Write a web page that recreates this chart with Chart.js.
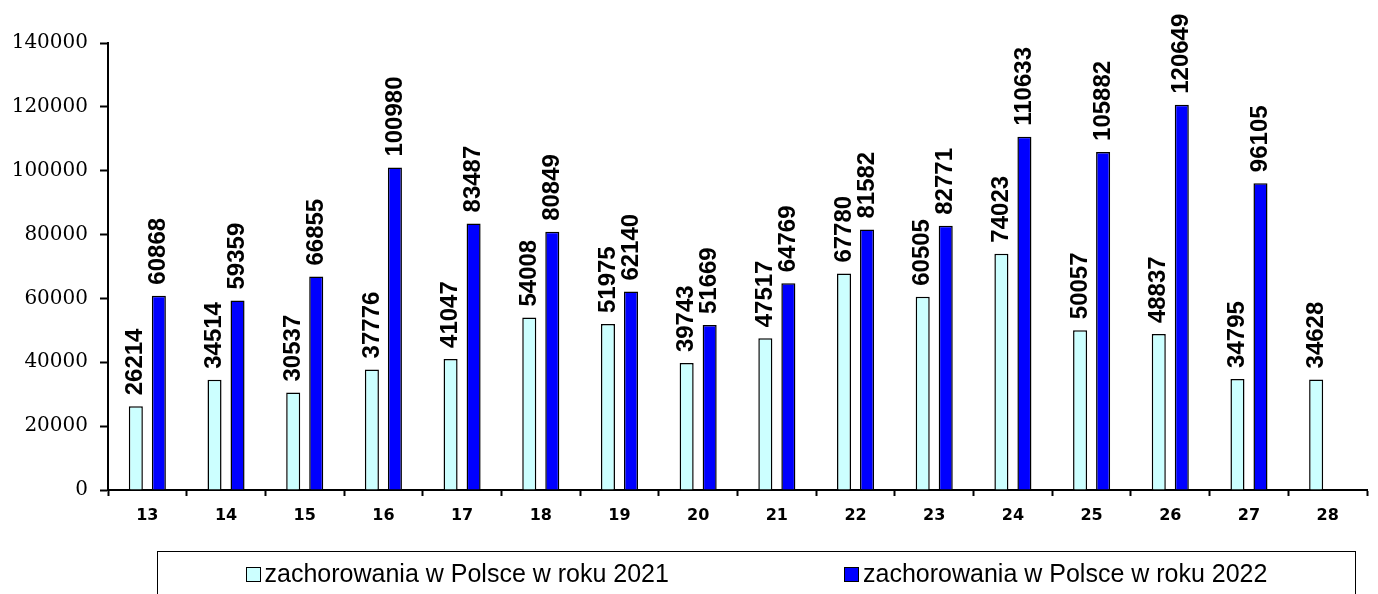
<!DOCTYPE html>
<html>
<head>
<meta charset="utf-8">
<script src="https://cdn.jsdelivr.net/npm/chart.js@4/dist/chart.umd.min.js"></script>
<style>
    body { margin: 0; background: #fff; }
    #wrap { position: relative; width: 1378px; height: 594px; overflow: hidden; }
    #legenda {
        position: absolute; left: 157px; top: 551px; width: 1199px; height: 60px;
        border: 1px solid #000; display: flex; box-sizing: border-box;
        font-family: "Liberation Sans", Arial, sans-serif; font-size: 25px;
    }
    .item { flex: 1; display: flex; justify-content: center; align-items: flex-start; padding-top: 7px; }
    .kw { width: 13px; height: 13px; border: 1px solid #000; margin: 8px 4px 0 0; }
</style>
</head>
<body>
<div id="wrap">
    <canvas id="wykres" width="1378" height="594"></canvas>
    <div id="legenda"></div>
</div>
<script>
const tygodnie = ["13", "14", "15", "16", "17", "18", "19", "20", "21", "22", "23", "24", "25", "26", "27", "28"];
const rok2021 = [26214, 34514, 30537, 37776, 41047, 54008, 51975, 39743, 47517, 67780, 60505, 74023, 50057, 48837, 34795, 34628];
const rok2022 = [60868, 59359, 66855, 100980, 83487, 80849, 62140, 51669, 64769, 81582, 82771, 110633, 105882, 120649, 96105, null];
const nazwy = ["zachorowania w Polsce w roku 2021", "zachorowania w Polsce w roku 2022"];
const kolory = ["#CCFFFF", "#0000FF"];

// etykiety wartosci nad slupkami, obrocone pionowo
const etykiety = {
    id: "etykiety",
    afterDatasetsDraw(chart) {
        const ctx = chart.ctx;
        ctx.save();
        ctx.font = "bold 24px 'Liberation Sans', Arial, sans-serif";
        ctx.fillStyle = "#000";
        ctx.textAlign = "left";
        ctx.textBaseline = "middle";
        chart.data.datasets.forEach((ds, i) => {
            chart.getDatasetMeta(i).data.forEach((bar, j) => {
                if (ds.data[j] == null) return;
                ctx.save();
                ctx.translate(bar.x, bar.y - 11);
                ctx.rotate(-Math.PI / 2);
                ctx.fillText(String(ds.data[j]), 0, 0);
                ctx.restore();
            });
        });
        ctx.restore();
    }
};

new Chart(document.getElementById("wykres"), {
    type: "bar",
    data: {
        labels: tygodnie,
        datasets: [
            { label: nazwy[0], data: rok2021, backgroundColor: kolory[0], borderColor: "#000", borderWidth: 1.5, borderSkipped: "bottom" },
            { label: nazwy[1], data: rok2022, backgroundColor: kolory[1], borderColor: "#000", borderWidth: 1.5, borderSkipped: "bottom" }
        ]
    },
    options: {
        responsive: false,
        animation: false,
        categoryPercentage: 0.585,
        barPercentage: 0.61,
        layout: { padding: { top: 43, right: 11, bottom: 64, left: 0 } },
        plugins: { legend: { display: false }, tooltip: { enabled: false } },
        scales: {
            x: {
                grid: { drawOnChartArea: false, tickLength: 6, tickColor: "#000", tickWidth: 2, offset: true },
                border: { color: "#000", width: 2 },
                ticks: { color: "#000", padding: 10, font: { family: "DejaVu Sans", size: 16, weight: "bold" } },
                afterFit(scale) { scale.height = 40; }
            },
            y: {
                min: 0,
                max: 140000,
                ticks: {
                    stepSize: 20000, color: "#000", padding: 12,
                    font: { family: "DejaVu Serif", size: 20 },
                    callback: (v) => String(v)
                },
                grid: { drawOnChartArea: false, tickLength: 8, tickColor: "#000", tickWidth: 2 },
                border: { color: "#000", width: 2 },
                afterFit(scale) { scale.width = 108; }
            }
        }
    },
    plugins: [etykiety]
});

const legenda = document.getElementById("legenda");
nazwy.forEach((n, i) => {
    const el = document.createElement("div");
    el.className = "item";
    el.innerHTML = `<span class="kw" style="background:${kolory[i]}"></span><span>${n}</span>`;
    legenda.appendChild(el);
});
</script>
</body>
</html>
